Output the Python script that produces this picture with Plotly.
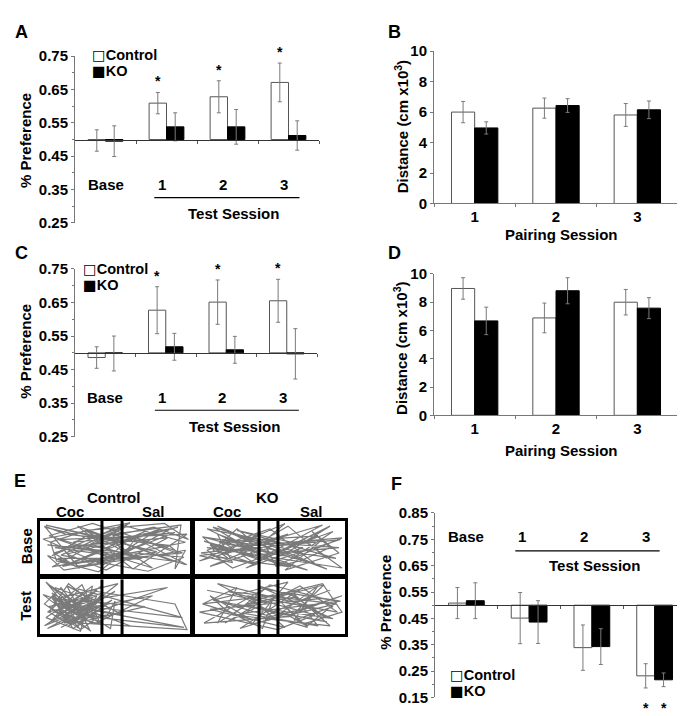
import plotly.graph_objects as go

W, H = 685, 716
FONT = "Liberation Sans"

# ---------------- data ----------------
pref_groups = ["Base", "1", "2", "3"]
pair_groups = ["1", "2", "3"]
series_names = ["Control", "KO"]

# Panel A (% preference)
a_ctrl = [0.497, 0.609, 0.628, 0.671]
a_ctrl_err = [0.032, 0.032, 0.048, 0.058]
a_ko = [0.495, 0.538, 0.538, 0.512]
a_ko_err = [0.046, 0.042, 0.052, 0.044]
a_sig = [False, True, True, True]

# Panel B (distance, cm x10^3)
b_ctrl = [6.0, 6.26, 5.81]
b_ctrl_err = [0.7, 0.66, 0.75]
b_ko = [4.96, 6.43, 6.15]
b_ko_err = [0.4, 0.45, 0.58]

# Panel C
c_ctrl = [0.486, 0.627, 0.651, 0.655]
c_ctrl_err = [0.032, 0.070, 0.066, 0.064]
c_ko = [0.498, 0.518, 0.509, 0.497]
c_ko_err = [0.052, 0.040, 0.040, 0.075]
c_sig = [False, True, True, True]

# Panel D
d_ctrl = [8.96, 6.88, 7.99]
d_ctrl_err = [0.76, 1.05, 0.90]
d_ko = [6.67, 8.80, 7.57]
d_ko_err = [0.97, 0.92, 0.74]

# Panel F
f_ctrl = [0.508, 0.451, 0.339, 0.232]
f_ctrl_err = [0.059, 0.097, 0.086, 0.046]
f_ko = [0.517, 0.436, 0.343, 0.217]
f_ko_err = [0.068, 0.081, 0.068, 0.026]
f_sig = [False, False, False, True]

pref_ticks = [0.25, 0.35, 0.45, 0.55, 0.65, 0.75]
pref_ticks_f = [0.15, 0.25, 0.35, 0.45, 0.55, 0.65, 0.75, 0.85]
dist_ticks = [0, 2, 4, 6, 8, 10]

# Panel E tracks (box units 0..100)
cb_x = [3, 30, 8, 55, 97, 15, 70, 40, 5, 88, 25, 62, 98, 12, 48, 80, 20, 95, 35, 6, 75, 50, 92, 18, 44,
        85, 10, 66, 30, 97, 52, 4, 78, 38, 90, 22, 58, 8, 84, 46, 14, 72, 96, 28, 60, 2, 42, 88, 34, 68,
        12, 20, 9, 27, 45, 51, 47, 36, 94, 90, 97, 60, 24, 5, 16, 41, 53, 49, 76, 99, 83, 31, 7, 11, 39,
        57, 64, 93, 86, 17, 3, 26, 44, 70, 98]
cb_y = [88, 70, 35, 92, 60, 15, 80, 45, 55, 25, 90, 10, 75, 65, 30, 85, 20, 40, 95, 72, 12, 58, 88, 38, 8,
        68, 50, 28, 82, 18, 62, 92, 42, 22, 78, 60, 90, 14, 52, 76, 36, 6, 32, 48, 96, 66, 18, 86, 56, 30,
        30, 22, 40, 55, 48, 62, 80, 70, 92, 10, 45, 28, 15, 35, 8, 20, 50, 72, 88, 65, 95, 82, 60, 25, 5,
        42, 68, 38, 54, 75, 90, 12, 32, 58, 18]
ct_x = [10, 35, 5, 28, 40, 8, 22, 45, 15, 38, 3, 30, 52, 12, 25, 42, 6, 33, 18, 55, 9, 36, 75, 20, 4, 31,
        48, 14, 39, 95, 26, 7, 44, 17, 34, 2, 60, 23, 41, 11, 29, 85, 16, 37, 5, 50, 24, 96, 13, 32, 70, 8,
        27, 43, 19, 6, 18, 9, 30, 14, 3, 25, 38, 12, 20, 45, 50, 47, 8, 16, 35, 27, 4, 22, 40, 10, 33, 90,
        98, 15, 28, 6, 37, 19, 44]
ct_y = [85, 60, 40, 90, 20, 70, 10, 55, 30, 80, 15, 45, 92, 65, 25, 75, 50, 8, 88, 35, 58, 18, 70, 42, 95,
        28, 62, 12, 48, 30, 82, 22, 68, 38, 5, 72, 15, 52, 88, 32, 60, 85, 20, 45, 10, 78, 35, 12, 55, 25,
        50, 65, 8, 40, 92, 40, 20, 65, 30, 85, 55, 12, 70, 45, 25, 35, 60, 10, 75, 50, 88, 5, 30, 62, 18,
        40, 80, 55, 8, 22, 48, 90, 35, 15, 70]
kb_x = [5, 40, 15, 65, 92, 25, 8, 50, 80, 18, 96, 35, 60, 3, 45, 88, 22, 70, 12, 55, 98, 30, 75, 6, 42,
        85, 20, 62, 10, 48, 94, 28, 68, 4, 38, 82, 16, 58, 90, 34, 72, 8, 52, 97, 24, 64, 14, 44, 30, 10,
        22, 5, 35, 18, 40, 12, 28, 50, 46, 54, 70, 90, 78, 96, 60, 85, 3, 25, 15, 38, 62, 88, 75, 98, 8, 44]
kb_y = [70, 55, 90, 30, 80, 12, 45, 85, 20, 65, 50, 35, 95, 25, 60, 10, 78, 40, 88, 18, 68, 52, 8, 62, 28,
        92, 38, 75, 15, 48, 30, 82, 58, 40, 20, 72, 60, 35, 90, 12, 50, 85, 25, 65, 45, 14, 32, 78, 40, 55,
        30, 70, 48, 62, 20, 45, 85, 35, 60, 15, 25, 50, 80, 40, 8, 65, 35, 22, 75, 52, 90, 30, 58, 12, 50, 42]
kt_x = [8, 45, 20, 70, 95, 35, 60, 10, 85, 50, 25, 90, 65, 5, 40, 78, 15, 58, 98, 30, 72, 48, 88, 12, 62,
        38, 94, 22, 80, 55, 3, 68, 42, 92, 18, 75, 52, 28, 86, 64, 6, 46, 97, 32, 82, 70, 88, 62, 95, 75,
        58, 82, 66, 92, 78, 48, 52, 45, 20, 10, 35, 5, 28, 15, 40, 85, 98, 72, 60, 90]
kt_y = [80, 60, 20, 88, 40, 70, 12, 45, 65, 90, 35, 15, 75, 55, 25, 50, 92, 30, 70, 10, 85, 42, 22, 62, 95,
        18, 55, 78, 35, 8, 40, 68, 88, 28, 58, 12, 72, 48, 90, 32, 20, 82, 60, 38, 15, 55, 30, 75, 60, 15,
        40, 88, 25, 50, 70, 35, 65, 10, 45, 70, 30, 55, 85, 20, 62, 92, 40, 18, 50, 80]

# ---------------- helpers ----------------
def px(p):
    return p / W

def py(p):
    return 1 - p / H

fig = go.Figure()
annotations = []
shapes = []
layout = {}

AXCOL = "#777777"
ERRCOL = "#7a7a7a"
BAR_W = 0.285


def txt(x, y, text, size=15, xref="paper", yref="paper", xanchor="center", yanchor="middle",
        angle=0, yshift=0, xshift=0, color="black", family=FONT):
    annotations.append(dict(x=x, y=y, text=text, xref=xref, yref=yref, showarrow=False,
                            xanchor=xanchor, yanchor=yanchor, textangle=angle, yshift=yshift,
                            xshift=xshift,
                            font=dict(family=family, size=size, color=color, weight="bold")))


def legend_entry(x, y, xref, yref, glyph, name, yshift=0):
    label = '<span style="font-family:DejaVu Sans">%s</span>%s' % (glyph, name)
    txt(x, y, label, 14.5, xref, yref, xanchor="left", yshift=yshift)


def add_bars(ax, xs, ctrl, ctrl_err, ko, ko_err, base=None):
    kw_c = dict(marker=dict(color="white", line=dict(color="#555555", width=1)))
    kw_k = dict(marker=dict(color="black", line=dict(color="black", width=1)))
    for vals, errs, kw, nm in ((ctrl, ctrl_err, kw_c, series_names[0]),
                               (ko, ko_err, kw_k, series_names[1])):
        if base is None:
            yv = vals
            b = None
        else:
            yv = [v - base for v in vals]
            b = base
        fig.add_trace(go.Bar(x=xs, y=yv, base=b, name=nm, xaxis="x" + ax, yaxis="y" + ax,
                             showlegend=False,
                             error_y=dict(type="data", array=errs, color=ERRCOL, thickness=1, width=2),
                             **kw))


def pref_axes(ax, xdom, ydom_px, yrange, ticks):
    yd = [py(ydom_px[1]), py(ydom_px[0])]
    pos = yd[0] + (0.5 - yrange[0]) / (yrange[1] - yrange[0]) * (yd[1] - yd[0])
    minor_vals = [round(t + 0.05, 2) for t in ticks[:-1]]
    layout["xaxis" + ax] = dict(domain=[px(xdom[0]), px(xdom[1])], range=[-0.5, 3.5], anchor="free",
                                position=pos, showline=True, linecolor="#333333", linewidth=1,
                                ticks="outside", ticklen=3, tickcolor="#555555",
                                tickvals=[0.5, 1.5, 2.5, 3.5], showticklabels=False,
                                showgrid=False, zeroline=False, fixedrange=True)
    layout["yaxis" + ax] = dict(domain=yd, range=yrange, anchor="x" + ax, showline=True,
                                linecolor=AXCOL, linewidth=1, ticks="outside", ticklen=3,
                                tickcolor=AXCOL, tickvals=ticks,
                                ticktext=["%.2f" % t for t in ticks],
                                minor=dict(tickvals=minor_vals, ticks="outside", ticklen=2,
                                           tickcolor=AXCOL),
                                tickfont=dict(family=FONT, size=15, color="black", weight="bold"),
                                showgrid=False, zeroline=False, fixedrange=True)


def dist_axes(ax, xdom, ydom_px):
    layout["xaxis" + ax] = dict(domain=[px(xdom[0]), px(xdom[1])], type="category",
                                categoryarray=pair_groups, tickson="boundaries", anchor="y" + ax,
                                showline=True, linecolor=AXCOL, linewidth=1, ticks="outside",
                                ticklen=3, tickcolor=AXCOL,
                                tickfont=dict(family=FONT, size=15, color="black", weight="bold"),
                                showgrid=False, zeroline=False, fixedrange=True)
    layout["yaxis" + ax] = dict(domain=[py(ydom_px[1]), py(ydom_px[0])], range=[0, 10],
                                anchor="x" + ax, showline=True, linecolor=AXCOL, linewidth=1,
                                ticks="outside", ticklen=3, tickcolor=AXCOL, tickvals=dist_ticks,
                                tickfont=dict(family=FONT, size=15, color="black", weight="bold"),
                                showgrid=False, zeroline=False, fixedrange=True)


xs = list(range(len(pref_groups)))

# ---------------- Panel A ----------------
pref_axes("", (67, 311), (40, 211), [0.25, 0.75], pref_ticks)
add_bars("", xs, a_ctrl, a_ctrl_err, a_ko, a_ko_err, base=0.5)
for i, s in enumerate(a_sig):
    if s:
        txt(i - BAR_W / 2, a_ctrl[i] + a_ctrl_err[i] + 0.003, "*", 14, "x", "y", yanchor="bottom")
for i, g in enumerate(pref_groups):
    txt(i - (0.07 if i else 0), 0.364, g, 15, "x", "y")
shapes.append(dict(type="line", xref="x", yref="y", x0=0.8, x1=3.18, y0=0.326, y1=0.326,
                   line=dict(color="black", width=1.2)))
txt(2.1, 0.277, "Test Session", 15, "x", "y")
legend_entry(-0.26, 0.75, "x", "y", "□", series_names[0], yshift=1)
legend_entry(-0.26, 0.704, "x", "y", "■", series_names[1])
txt(px(18), py(127), "% Preference", 15, angle=-90)
txt(px(13), py(15), "A", 18)

# ---------------- Panel B ----------------
dist_axes("2", (426, 670), (35, 191))
add_bars("2", pair_groups, b_ctrl, b_ctrl_err, b_ko, b_ko_err)
txt(px(393), py(113), "Distance (cm x10<sup>3</sup>)", 15, angle=-90)
txt(px(553), py(223), "Pairing Session", 15)
txt(px(387), py(15), "B", 18)

# ---------------- Panel C ----------------
pref_axes("3", (67, 309), (258, 430), [0.25, 0.75], pref_ticks)
add_bars("3", xs, c_ctrl, c_ctrl_err, c_ko, c_ko_err, base=0.5)
for i, s in enumerate(c_sig):
    if s:
        txt(i - BAR_W / 2, c_ctrl[i] + c_ctrl_err[i] + 0.003, "*", 14, "x3", "y3", yanchor="bottom")
for i, g in enumerate(pref_groups):
    txt(i - (0.07 if i else 0), 0.367, g, 15, "x3", "y3")
shapes.append(dict(type="line", xref="x3", yref="y3", x0=0.82, x1=3.2, y0=0.329, y1=0.329,
                   line=dict(color="black", width=1.2)))
txt(2.13, 0.28, "Test Session", 15, "x3", "y3")
legend_entry(-0.40, 0.75, "x3", "y3", "□", series_names[0])
legend_entry(-0.40, 0.703, "x3", "y3", "■", series_names[1])
txt(px(18), py(343), "% Preference", 15, angle=-90)
txt(px(13), py(242), "C", 18)

# ---------------- Panel D ----------------
dist_axes("4", (426, 670), (263, 408))
add_bars("4", pair_groups, d_ctrl, d_ctrl_err, d_ko, d_ko_err)
txt(px(393), py(340), "Distance (cm x10<sup>3</sup>)", 15, angle=-90)
txt(px(553), py(444), "Pairing Session", 15)
txt(px(387), py(242), "D", 18)

# ---------------- Panel F ----------------
pref_axes("5", (427, 678), (508, 697), [0.15, 0.85], pref_ticks_f)
add_bars("5", xs, f_ctrl, f_ctrl_err, f_ko, f_ko_err, base=0.5)
for i, s in enumerate(f_sig):
    if s:
        txt(i - BAR_W / 2, 0.15, "*", 14, "x5", "y5", yshift=-11)
        txt(i + BAR_W / 2, 0.15, "*", 14, "x5", "y5", yshift=-11)
f_label_x = [0, 0.88, 1.87, 2.87]
for i, g in enumerate(pref_groups):
    txt(f_label_x[i], 0.761, g, 15, "x5", "y5")
shapes.append(dict(type="line", xref="x5", yref="y5", x0=0.78, x1=3.08, y0=0.706, y1=0.706,
                   line=dict(color="black", width=1.2)))
txt(2.04, 0.65, "Test Session", 15, "x5", "y5")
legend_entry(-0.29, 0.236, "x5", "y5", "□", series_names[0])
legend_entry(-0.29, 0.176, "x5", "y5", "■", series_names[1])
txt(px(378), py(600), "% Preference", 15, angle=-90)
txt(px(388), py(478), "F", 18)

# ---------------- Panel E ----------------
boxes = [
    ("6", (32, 182), (516, 571), cb_x, cb_y, (41.3, 54.7)),
    ("7", (32, 182), (576, 632), ct_x, ct_y, (41.3, 54.7)),
    ("8", (187, 337), (516, 571), kb_x, kb_y, (42.7, 55.3)),
    ("9", (187, 337), (576, 632), kt_x, kt_y, (42.7, 55.3)),
]
for ax, xd, yd, tx, ty, divs in boxes:
    n = min(len(tx), len(ty))
    layout["xaxis" + ax] = dict(domain=[px(xd[0]), px(xd[1])], range=[0, 100], anchor="y" + ax,
                                showline=True, mirror=True, linecolor="black", linewidth=3,
                                ticks="", showticklabels=False, showgrid=False, zeroline=False,
                                fixedrange=True)
    layout["yaxis" + ax] = dict(domain=[py(yd[1]), py(yd[0])], range=[0, 100], anchor="x" + ax,
                                showline=True, mirror=True, linecolor="black", linewidth=3,
                                ticks="", showticklabels=False, showgrid=False, zeroline=False,
                                fixedrange=True)
    fig.add_trace(go.Scatter(x=tx[:n], y=ty[:n], mode="lines", xaxis="x" + ax, yaxis="y" + ax,
                             line=dict(color="#7a7a7a", width=1.2), showlegend=False,
                             hoverinfo="skip"))
    for d in divs:
        shapes.append(dict(type="line", xref="x" + ax, yref="y" + ax, x0=d, x1=d, y0=0, y1=100,
                           line=dict(color="black", width=3)))

txt(px(105), py(492), "Control", 15)
txt(px(259), py(492), "KO", 15)
txt(px(62), py(507), "Coc", 15)
txt(px(145), py(507), "Sal", 15)
txt(px(219), py(507), "Coc", 15)
txt(px(303), py(507), "Sal", 15)
txt(px(18), py(542), "Base", 15, angle=-90)
txt(px(18), py(603), "Test", 15, angle=-90)
txt(px(12), py(475), "E", 18)

fig.update_layout(
    width=W, height=H, autosize=False,
    margin=dict(l=0, r=0, t=0, b=0),
    paper_bgcolor="white", plot_bgcolor="white",
    barmode="group", bargap=0.43, bargroupgap=0,
    font=dict(family=FONT, size=15, color="black", weight="bold"),
    annotations=annotations, shapes=shapes, showlegend=False,
    **layout,
)

fig.write_html("out.html")
